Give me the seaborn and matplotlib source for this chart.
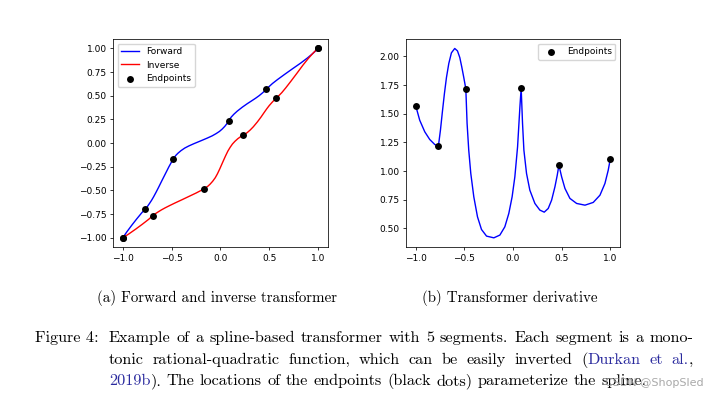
import matplotlib
matplotlib.use("Agg")
import matplotlib.pyplot as plt
from matplotlib.transforms import IdentityTransform
import pandas as pd
import seaborn as sns

# knots of the 5-segment spline
knot_x = [-1.0, -0.767, -0.485, 0.084, 0.472, 1.0]
knot_y = [-1.0, -0.694, -0.171, 0.234, 0.570, 1.0]
knot_d = [1.570, 1.218, 1.718, 1.726, 1.052, 1.105]

# points along the curves
curve_x = [-1.0, -0.959, -0.907, -0.856, -0.804, -0.767,
           -0.746, -0.726, -0.705, -0.684, -0.660, -0.633, -0.599, -0.571, -0.547, -0.527, -0.506, -0.485,
           -0.472, -0.455, -0.434, -0.403, -0.365, -0.324, -0.272, -0.197, -0.135, -0.084, -0.043, -0.009,
           0.019, 0.047, 0.071, 0.084,
           0.098, 0.112, 0.139, 0.173, 0.225, 0.276, 0.321, 0.362, 0.397, 0.431, 0.455, 0.472,
           0.500, 0.534, 0.585, 0.654, 0.740, 0.825, 0.894, 0.945, 0.979, 1.0]
forward_y = [-1.0, -0.938, -0.866, -0.799, -0.734, -0.694,
             -0.667, -0.637, -0.604, -0.567, -0.521, -0.467, -0.396, -0.339, -0.290, -0.249, -0.210, -0.171,
             -0.151, -0.128, -0.106, -0.079, -0.052, -0.030, -0.006, 0.026, 0.053, 0.077, 0.101, 0.124,
             0.149, 0.179, 0.211, 0.234,
             0.257, 0.276, 0.306, 0.338, 0.380, 0.417, 0.447, 0.475, 0.501, 0.530, 0.552, 0.570,
             0.598, 0.630, 0.671, 0.723, 0.786, 0.847, 0.901, 0.945, 0.977, 1.0]
deriv_y = [1.570, 1.444, 1.343, 1.276, 1.232, 1.218,
           1.357, 1.517, 1.677, 1.817, 1.939, 2.032, 2.070, 2.049, 1.991, 1.910, 1.817, 1.718,
           1.416, 1.183, 0.980, 0.776, 0.601, 0.491, 0.433, 0.418, 0.442, 0.514, 0.631, 0.776,
           0.950, 1.212, 1.560, 1.726,
           1.416, 1.183, 0.980, 0.834, 0.718, 0.660, 0.642, 0.674, 0.747, 0.863, 0.965, 1.052,
           0.950, 0.849, 0.762, 0.718, 0.703, 0.727, 0.790, 0.892, 1.008, 1.105]

y_ticks_a = [-1.0, -0.75, -0.5, -0.25, 0.0, 0.25, 0.5, 0.75, 1.0]
y_ticks_b = [0.5, 0.75, 1.0, 1.25, 1.5, 1.75, 2.0]

sub_a = "(a) Forward and inverse transformer"
sub_b = "(b) Transformer derivative"
LINK = "#2a2a9e"
caption_lines = [
    [[("Example", "k")], [("of", "k")], [("a", "k")], [("spline-based", "k")], [("transformer", "k")],
     [("with", "k")], [("5", "k")], [("segments.", "k")], [("Each", "k")], [("segment", "k")],
     [("is", "k")], [("a", "k")], [("mono-", "k")]],
    [[("tonic", "k")], [("rational-quadratic", "k")], [("function,", "k")], [("which", "k")],
     [("can", "k")], [("be", "k")], [("easily", "k")], [("inverted", "k")],
     [("(", "k"), ("Durkan", LINK)], [("et", LINK)], [("al.", LINK), (",", "k")]],
    [[("2019b", LINK), (").", "k")], [("The", "k")], [("locations", "k")], [("of", "k")], [("the", "k")],
     [("endpoints", "k")], [("(black", "k")], [("dots)", "k")], [("parameterize", "k")],
     [("the", "k")], [("spline.", "k")]],
]

W, H = 715, 399
plt.rcParams.update({
    "font.size": 6.5,
    "axes.linewidth": 0.55,
    "xtick.major.size": 2.3, "ytick.major.size": 2.3,
    "xtick.major.width": 0.55, "ytick.major.width": 0.55,
    "xtick.major.pad": 2.3, "ytick.major.pad": 2.3,
    "legend.fontsize": 6.5,
})

fig = plt.figure(figsize=(W / 100, H / 100), dpi=100)
ax_a = fig.add_axes([113 / W, 1 - 247.3 / H, 214.7 / W, 208.3 / H])
ax_b = fig.add_axes([406 / W, 1 - 247.3 / H, 214.0 / W, 208.3 / H])

curves = pd.DataFrame({"x": curve_x, "fwd": forward_y, "deriv": deriv_y})
ends = pd.DataFrame({"x": knot_x + knot_y, "y": knot_y + knot_x})

# (a) forward and inverse
sns.lineplot(data=curves, x="x", y="fwd", sort=False, estimator=None,
             color="blue", linewidth=1.0, label="Forward", ax=ax_a)
sns.lineplot(data=curves, x="fwd", y="x", sort=False, estimator=None,
             color="red", linewidth=1.0, label="Inverse", ax=ax_a)
sns.scatterplot(data=ends, x="x", y="y", color="black", s=25, linewidth=0,
                zorder=3, label="Endpoints", ax=ax_a)
ax_a.set(xlabel="", ylabel="")
ax_a.set_yticks(y_ticks_a)
ax_a.legend(loc="upper left", scatterpoints=1)

# (b) derivative
sns.lineplot(data=curves, x="x", y="deriv", sort=False, estimator=None,
             color="blue", linewidth=1.0, ax=ax_b)
sns.scatterplot(x=knot_x, y=knot_d, color="black", s=25, linewidth=0,
                zorder=3, label="Endpoints", ax=ax_b)
ax_b.set(xlabel="", ylabel="")
ax_b.set_yticks(y_ticks_b)
ax_b.legend(loc="upper right", scatterpoints=1)

for ax in (ax_a, ax_b):
    ax.set_xticks([-1.0, -0.5, 0.0, 0.5, 1.0])

# captions in a LaTeX-like font
SUB = dict(family="cmr10", fontsize=10.8)
CAP = dict(family="cmr10", fontsize=11.7)
fig.text(217 / W, 1 - 298 / H, sub_a, ha="center", va="center", **SUB)
fig.text(510 / W, 1 - 298 / H, sub_b, ha="center", va="center", **SUB)

renderer = fig.canvas.get_renderer()
ident = IdentityTransform()


def width_of(t):
    return t.get_window_extent(renderer).width


def place_line(words, y_img, x0, x1, justify):
    base = H - y_img
    objs = []
    for w in words:
        parts = [fig.text(0, base, s, color=c, transform=ident, va="baseline", **CAP) for s, c in w]
        objs.append(parts)
    wid = [sum(width_of(p) for p in parts) for parts in objs]
    if justify:
        gap = (x1 - x0 - sum(wid)) / (len(objs) - 1)
    else:
        probe1 = fig.text(0, 0, "a a", transform=ident, **CAP)
        probe2 = fig.text(0, 0, "aa", transform=ident, **CAP)
        gap = width_of(probe1) - width_of(probe2)
        probe1.remove()
        probe2.remove()
    x = x0
    for parts, w in zip(objs, wid):
        xp = x
        for p in parts:
            p.set_x(xp)
            xp += width_of(p)
        x += w + gap


fig.text(35, H - 342, "Figure 4:", transform=ident, va="baseline", **CAP)
place_line(caption_lines[0], 342, 109, 693, True)
place_line(caption_lines[1], 364, 109, 693, True)
place_line(caption_lines[2], 385, 109, 693, False)

fig.text(605, H - 386, "CSDN @ShopSled", transform=ident, fontsize=8,
         color="#9a9a9a", alpha=0.85, va="baseline")

fig.savefig("out.png", dpi=100)
